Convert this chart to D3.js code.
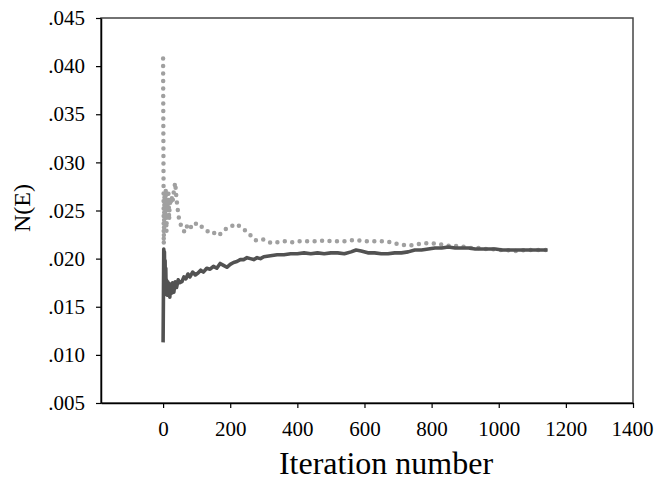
<!DOCTYPE html>
<html>
<head>
<meta charset="utf-8">
<script src="https://cdn.jsdelivr.net/npm/d3@7"></script>
<style>
  body { margin: 0; background: #fff; }
  text { font-family: "Liberation Serif", "Times New Roman", serif; }
</style>
</head>
<body>
<svg id="chart" width="657" height="482"></svg>
<script>
"use strict";

// light grey dotted series (iteration, N(E))
const lightIter = [0, 2, 4, 6, 8, 10, 12, 14, 16, 18, 20, 22, 25, 28, 32, 36, 40, 44, 48, 52, 58, 64, 70, 76, 82, 90, 96, 104, 110, 118, 126, 134, 142, 150, 158, 166, 174, 182, 190, 200, 210, 218, 226, 236, 246, 256, 266, 276, 286, 296, 306, 316, 326, 340, 355, 370, 385, 400, 420, 440, 460, 480, 500, 520, 540, 560, 580, 600, 620, 640, 660, 680, 700, 720, 740, 760, 780, 800, 820, 840, 860, 880, 900, 920, 940, 960, 980, 1000, 1020, 1040, 1060, 1080, 1100, 1120, 1140];
const lightVal = [.0408, .0215, .0265, .0245, .0272, .0228, .0262, .0250, .0268, .0240, .0262, .0255, .0265, .0258, .0270, .0279, .0262, .0250, .0240, .0236, .0230, .0228, .0234, .0230, .0233, .0232, .0236, .0237, .0235, .0232, .0230, .0228, .0226, .0227, .0226, .0224, .0227, .0229, .0232, .0233, .0235, .0236, .0234, .0231, .0229, .0226, .0222, .0219, .0219, .0220, .0219, .0217, .0216, .0217, .0218, .0218, .0217, .0218, .0218, .0218, .0218, .0219, .0218, .0218, .0218, .0219, .0219, .0218, .0218, .0218, .0218, .0217, .0215, .0214, .0214, .0215, .0216, .0216, .0215, .0214, .0213, .0213, .0212, .0211, .0211, .0210, .0210, .0209, .0209, .0208, .0208, .0209, .0209, .0209, .0209];

// dark grey solid series
const darkIter = [0, 2, 3, 4, 5, 6, 7, 8, 9, 10, 12, 14, 16, 18, 20, 22, 25, 28, 32, 36, 40, 45, 50, 56, 62, 68, 74, 80, 88, 96, 104, 112, 120, 130, 140, 150, 160, 170, 180, 190, 200, 210, 220, 230, 240, 250, 260, 270, 280, 290, 300, 320, 340, 360, 380, 400, 420, 440, 460, 480, 500, 520, 540, 560, 575, 590, 610, 630, 650, 670, 690, 710, 730, 750, 770, 790, 810, 830, 850, 870, 890, 910, 930, 950, 970, 990, 1010, 1040, 1070, 1100, 1145];
const darkVal = [.0113, .0210, .0165, .0207, .0172, .0198, .0163, .0190, .0168, .0178, .0162, .0176, .0166, .0174, .0160, .0170, .0164, .0175, .0165, .0176, .0170, .0178, .0175, .0176, .0181, .0179, .0184, .0181, .0186, .0183, .0185, .0188, .0186, .0190, .0189, .0192, .0190, .0195, .0193, .0191, .0194, .0196, .0197, .0199, .0199, .0201, .0200, .0199, .0201, .0200, .0202, .0203, .0204, .0204, .0205, .0205, .0206, .0205, .0206, .0205, .0206, .0206, .0205, .0207, .0209, .0208, .0206, .0206, .0205, .0205, .0206, .0206, .0207, .0209, .0209, .0210, .0211, .0211, .0212, .0211, .0211, .0211, .0210, .0210, .0210, .0210, .0209, .0209, .0209, .0209, .0209];

const xTicks = [0, 200, 400, 600, 800, 1000, 1200, 1400];
const yTicks = [.005, .010, .015, .020, .025, .030, .035, .040, .045];

const plotLeft = 101, plotRight = 633, plotTop = 18, plotBottom = 403;

const svg = d3.select("#chart");

const xScale = d3.scaleLinear().domain([-185, 1400]).range([plotLeft, plotRight]);
const yScale = d3.scaleLinear().domain([.005, .045]).range([plotBottom, plotTop]);

// frame (top and right edges)
svg.append("rect")
    .attr("x", plotLeft).attr("y", plotTop)
    .attr("width", plotRight - plotLeft).attr("height", plotBottom - plotTop)
    .attr("fill", "none")
    .attr("stroke", "#444")
    .attr("stroke-width", 1.5);

const xAxis = svg.append("g")
    .attr("transform", "translate(0," + plotBottom + ")")
    .call(d3.axisBottom(xScale).tickValues(xTicks).tickSize(5).tickSizeOuter(0).tickPadding(13)
        .tickFormat(d3.format("d")));

const yAxis = svg.append("g")
    .attr("transform", "translate(" + plotLeft + ",0)")
    .call(d3.axisLeft(yScale).tickValues(yTicks).tickSize(5).tickSizeOuter(0).tickPadding(11)
        .tickFormat(d => d3.format(".3f")(d).replace(/^0/, "")));

[xAxis, yAxis].forEach(g => {
    g.attr("font-family", null);
    g.select(".domain").attr("stroke", "#000").attr("stroke-width", 1.5);
    g.selectAll(".tick line").attr("stroke", "#000").attr("stroke-width", 1.2);
    g.selectAll(".tick text")
        .attr("fill", "#000")
        .attr("font-family", "Liberation Serif")
        .style("font-size", "21px");
});
// last label sits inside the picture edge
xAxis.selectAll(".tick text").filter(d => d === 1400).attr("text-anchor", "end").attr("dx", 20);

const line = d3.line()
    .x(d => xScale(d[0]))
    .y(d => yScale(d[1]));

const lightData = lightIter.map((t, i) => [t, lightVal[i]]);
const darkData = darkIter.map((t, i) => [t, darkVal[i]]);

svg.append("path")
    .attr("d", line(lightData))
    .attr("fill", "none")
    .attr("stroke", "#a0a0a0")
    .attr("stroke-width", 4.5)
    .attr("stroke-linecap", "round")
    .attr("stroke-dasharray", "0,7.5");

svg.append("path")
    .attr("d", line(darkData))
    .attr("fill", "none")
    .attr("stroke", "#525252")
    .attr("stroke-width", 3.6)
    .attr("stroke-linejoin", "round");

// axis titles
svg.append("text")
    .attr("x", 386).attr("y", 474)
    .attr("text-anchor", "middle")
    .style("font-size", "32px")
    .text("Iteration number");

svg.append("text")
    .attr("transform", "translate(30,208) rotate(-90)")
    .attr("text-anchor", "middle")
    .style("font-size", "24px")
    .text("N(E)");
</script>
</body>
</html>
